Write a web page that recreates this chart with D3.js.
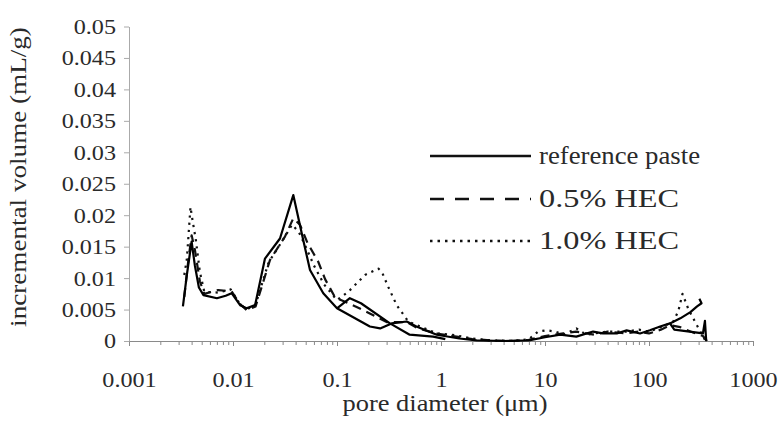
<!DOCTYPE html>
<html>
<head>
<meta charset="utf-8">
<script src="https://cdn.jsdelivr.net/npm/d3@7/dist/d3.min.js"></script>
<style>
  html, body { margin: 0; padding: 0; background: #fff; }
  svg { display: block; }
  text { font-family: "Liberation Serif", "Times New Roman", serif; fill: #2a2a2a; }
</style>
</head>
<body>
<svg id="chart" width="783" height="433"></svg>
<script>
// ---- data (pore diameter in µm, incremental volume in mL/g) ----
const xTickValues = [0.001, 0.01, 0.1, 1, 10, 100, 1000];
const xTickLabels = ["0.001", "0.01", "0.1", "1", "10", "100", "1000"];
const yTickValues = [0, 0.005, 0.01, 0.015, 0.02, 0.025, 0.03, 0.035, 0.04, 0.045, 0.05];
const yTickLabels = ["0", "0.005", "0.01", "0.015", "0.02", "0.025", "0.03", "0.035", "0.04", "0.045", "0.05"];
const seriesNames = ["reference paste", "0.5% HEC", "1.0% HEC"];

// reference paste (solid) – main trace
const refPaste = [
  [0.0033,0.0055],[0.0036,0.0105],[0.004,0.0158],[0.0043,0.012],[0.0047,0.0085],[0.0052,0.0073],
  [0.007,0.0068],[0.0085,0.0072],[0.0097,0.0076],[0.0117,0.0057],[0.0135,0.0052],[0.0163,0.0057],
  [0.0203,0.0131],[0.0283,0.0163],[0.038,0.0232],[0.0474,0.016],[0.055,0.0113],[0.0738,0.0076],
  [0.1,0.0052],[0.207,0.0023],[0.26,0.002],[0.335,0.0028],[0.468,0.0031],[0.58,0.0023],[0.91,0.001],
  [1.5,0.0004],[2.2,0.0001],[4,0],[7,0.0001],[10,0.0006],[14,0.001],[20,0.0007],[29,0.0015],
  [36,0.0012],[49,0.0012],[61,0.0017],[82,0.0012],[102,0.0017],[128,0.0023],[159,0.0028],
  [175,0.0018],[330,0.0012],[345,0.0032],[355,0]
];
// reference paste – secondary loop between 0.1 and 1 µm
const refPasteLoop = [
  [0.1,0.0052],[0.133,0.0068],[0.17,0.006],[0.323,0.0028],[0.5,0.001],[0.84,0.0007],[1.1,0.0003]
];
// reference paste – hook near 300 µm
const refPasteHook = [
  [159,0.0028],[200,0.0036],[250,0.0046],[290,0.0055],[320,0.006],[305,0.0067]
];
// 0.5% HEC (dashed)
const hec05 = [
  [0.0034,0.007],[0.0037,0.0125],[0.004,0.0168],[0.0043,0.0145],[0.0048,0.0095],[0.0053,0.0075],
  [0.0072,0.0081],[0.0097,0.0079],[0.0115,0.006],[0.0135,0.0049],[0.0165,0.0055],[0.0227,0.0129],
  [0.0316,0.0166],[0.038,0.0195],[0.044,0.0185],[0.052,0.0156],[0.066,0.0126],[0.077,0.0098],
  [0.096,0.0069],[0.13,0.006],[0.2,0.0045],[0.3,0.003],[0.47,0.003],[0.6,0.002],[0.9,0.0012],
  [1.3,0.0008],[2,0.0003],[3,0.0001],[5,0],[7,0.0002],[10,0.0008],[15,0.0012],[20,0.0015],
  [30,0.001],[40,0.0015],[60,0.0012],[80,0.0015],[100,0.0012],[130,0.0018],[160,0.0025],
  [200,0.0022],[250,0.0015],[330,0.0008],[360,0]
];
// 1.0% HEC (dotted)
const hec10 = [
  [0.0034,0.0105],[0.0036,0.013],[0.0039,0.0213],[0.0041,0.019],[0.0044,0.016],[0.0048,0.011],
  [0.0053,0.0078],[0.0072,0.0077],[0.0095,0.0082],[0.0115,0.006],[0.0135,0.005],[0.0165,0.0058],
  [0.022,0.0125],[0.03,0.016],[0.037,0.0185],[0.043,0.0173],[0.05,0.015],[0.06,0.012],[0.075,0.009],
  [0.1,0.0065],[0.128,0.0078],[0.186,0.0105],[0.25,0.0115],[0.27,0.011],[0.311,0.0086],
  [0.375,0.0057],[0.485,0.0031],[0.91,0.0012],[1.27,0.001],[2,0.0004],[3,0.0001],[5,0],
  [7,0.0003],[8.6,0.0015],[10.4,0.0017],[12.5,0.0015],[15,0.001],[20,0.002],[25,0.001],
  [30,0.0012],[40,0.0015],[60,0.0015],[80,0.0018],[100,0.0015],[130,0.0022],[170,0.003],
  [191,0.0047],[210,0.0075],[240,0.005],[300,0.002],[350,0]
];

// ---- chart ----
const svg = d3.select("#chart");
const x = d3.scaleLog().domain([0.001, 1000]).range([129, 753]);
const y = d3.scaleLinear().domain([0, 0.05]).range([341, 26.5]);
const axisColor = "#8a8a8a";
const textStretch = 1.15;
const serif = '"Liberation Serif", "Times New Roman", serif';

// minor x ticks
const minorVals = [];
xTickValues.slice(0, -1).forEach(d => { for (let k = 2; k <= 9; k++) minorVals.push(d * k); });
const gMinor = svg.append("g").attr("transform", `translate(0,${y(0)})`)
  .call(d3.axisBottom(x).tickValues(minorVals).tickSize(4).tickFormat(() => ""));
gMinor.select(".domain").remove();
gMinor.selectAll("line").attr("stroke", axisColor);

// major x axis
const gx = svg.append("g").attr("transform", `translate(0,${y(0)})`)
  .call(d3.axisBottom(x).tickValues(xTickValues).tickSize(5).tickSizeOuter(0)
    .tickFormat((d, i) => xTickLabels[i]));
gx.select(".domain").attr("stroke", axisColor);
gx.selectAll("line").attr("stroke", axisColor);
gx.selectAll("text").attr("font-size", 21).attr("y", 0).attr("dy", 0)
  .attr("transform", `translate(0,46) scale(${textStretch},1)`)
  .style("font-family", serif).attr("fill", "#2a2a2a");

// y axis
const gy = svg.append("g").attr("transform", `translate(${x(0.001)},0)`)
  .call(d3.axisLeft(y).tickValues(yTickValues).tickSize(5).tickSizeOuter(0)
    .tickFormat((d, i) => yTickLabels[i]));
gy.select(".domain").attr("stroke", "#aaa");
gy.selectAll("line").attr("stroke", "#aaa");
gy.selectAll("text").attr("font-size", 21).attr("x", 0).attr("dy", "0.33em")
  .attr("transform", `translate(-13,0) scale(${textStretch},1)`)
  .style("font-family", serif).attr("fill", "#2a2a2a");

// lines
const line = d3.line().x(d => x(d[0])).y(d => y(d[1]));
const plot = svg.append("g").attr("fill", "none").attr("stroke", "#000")
  .attr("stroke-linejoin", "round").attr("stroke-linecap", "butt");

plot.append("path").datum(hec10).attr("d", line)
  .attr("stroke-width", 2.2).attr("stroke-dasharray", "2.2,5").attr("stroke", "#111");
plot.append("path").datum(hec05).attr("d", line)
  .attr("stroke-width", 2.2).attr("stroke-dasharray", "9,6").attr("stroke", "#111");
[refPaste, refPasteLoop, refPasteHook].forEach(s => {
  plot.append("path").datum(s).attr("d", line).attr("stroke-width", 2.2);
});

// legend
const legend = svg.append("g");
const legendItems = [
  { name: seriesNames[0], dash: null, y: 156, len: 161 },
  { name: seriesNames[1], dash: "14,11", y: 199, len: 140 },
  { name: seriesNames[2], dash: "2.5,5", y: 241, len: 140 }
];
legendItems.forEach(it => {
  legend.append("line").attr("x1", 430).attr("x2", 531).attr("y1", it.y).attr("y2", it.y)
    .attr("stroke", "#111").attr("stroke-width", 2.4)
    .attr("stroke-dasharray", it.dash);
  legend.append("text").attr("x", 539).attr("y", it.y)
    .attr("dy", "0.33em").attr("font-size", 25)
    .attr("textLength", it.len).attr("lengthAdjust", "spacingAndGlyphs").text(it.name);
});

// axis titles
svg.append("text").attr("transform", `translate(445,411) scale(${textStretch},1)`)
  .attr("text-anchor", "middle").attr("font-size", 23).text("pore diameter (\u03bcm)");
svg.append("text").attr("transform", "translate(26,177) rotate(-90) scale(1.18,1.0)")
  .attr("text-anchor", "middle").attr("font-size", 23).text("incremental volume (mL/g)");
</script>
</body>
</html>
